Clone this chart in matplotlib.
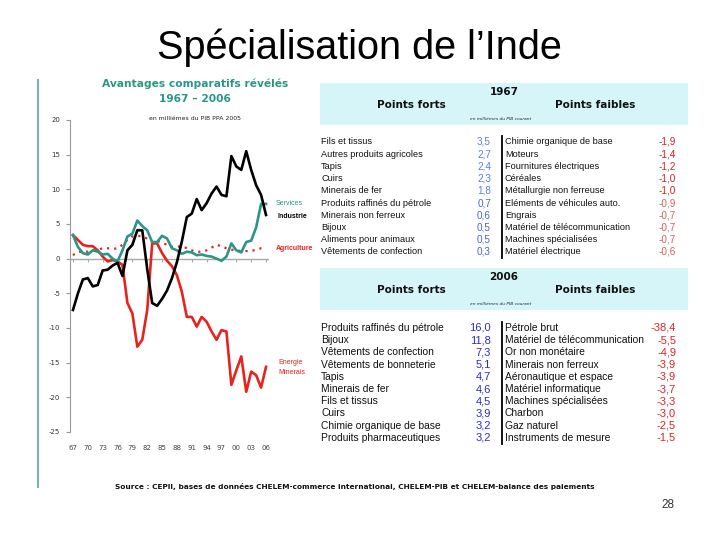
import matplotlib
matplotlib.use("Agg")
import matplotlib.pyplot as plt

# ---------------- data ----------------
years = list(range(1967, 2007))
industrie = [-7.4, -5.0, -3.0, -2.8, -4.0, -3.8, -1.7, -1.6, -1.0, -0.6,
             -2.5, 1.2, 2.0, 4.1, 4.1, -1.5, -6.4, -6.8, -5.8, -4.6,
             -2.8, -0.5, 2.5, 6.0, 6.5, 8.6, 7.0, 8.0, 9.4, 10.4,
             9.2, 9.0, 14.8, 13.3, 12.8, 15.5, 12.8, 10.6, 9.2, 6.3]
services = [3.4, 1.7, 0.8, 0.6, 1.2, 1.0, 0.6, 0.7, 0.0, -0.4,
            1.2, 3.2, 3.6, 5.5, 4.7, 4.1, 2.4, 2.4, 3.3, 2.9,
            1.5, 1.2, 0.7, 1.0, 0.9, 0.5, 0.6, 0.4, 0.3, 0.0,
            -0.3, 0.3, 2.2, 1.2, 0.9, 2.4, 2.6, 4.5, 7.9, 7.9]
energie = [3.4, 2.7, 2.0, 1.8, 1.8, 1.2, 0.3, -0.4, -0.2, -0.4,
           -0.9, -6.4, -7.9, -12.7, -11.7, -7.4, 2.2, 2.2, 0.8, -0.3,
           -1.1, -2.4, -4.8, -8.4, -8.4, -9.8, -8.4, -9.1, -10.5, -11.7,
           -10.3, -10.5, -18.2, -16.1, -14.1, -19.2, -16.3, -16.8, -18.6, -15.6]
agriculture = [0.5, 1.0, 1.0, 1.0, 1.2, 1.3, 1.5, 1.5, 1.4, 1.5,
               2.0, 2.7, 3.2, 3.3, 3.2, 2.9, 2.4, 2.6, 2.3, 2.0,
               1.7, 1.7, 1.8, 1.5, 1.2, 1.0, 1.0, 1.2, 1.6, 2.0,
               1.8, 1.5, 1.3, 1.2, 1.1, 1.1, 1.1, 1.3, 1.5, 1.5]
xtick_years = list(range(1967, 2007, 3))
xtick_labels = ["67", "70", "73", "76", "79", "82", "85", "88", "91", "94", "97", "00", "03", "06"]
yticks = [20, 15, 10, 5, 0, -5, -10, -15, -20, -25]

forts_1967 = ["Fils et tissus", "Autres produits agricoles", "Tapis", "Cuirs", "Minerais de fer",
              "Produits raffinés du pétrole", "Minerais non ferreux", "Bijoux",
              "Aliments pour animaux", "Vêtements de confection"]
forts_1967_val = ["3,5", "2,7", "2,4", "2,3", "1,8", "0,7", "0,6", "0,5", "0,5", "0,3"]
faibles_1967 = ["Chimie organique de base", "Moteurs", "Fournitures électriques", "Céréales",
                "Métallurgie non ferreuse", "Eléments de véhicules auto.", "Engrais",
                "Matériel de télécommunication", "Machines spécialisées", "Matériel électrique"]
faibles_1967_val = ["-1,9", "-1,4", "-1,2", "-1,0", "-1,0", "-0,9", "-0,7", "-0,7", "-0,7", "-0,6"]

forts_2006 = ["Produits raffinés du pétrole", "Bijoux", "Vêtements de confection",
              "Vêtements de bonneterie", "Tapis", "Minerais de fer", "Fils et tissus", "Cuirs",
              "Chimie organique de base", "Produits pharmaceutiques"]
forts_2006_val = ["16,0", "11,8", "7,3", "5,1", "4,7", "4,6", "4,5", "3,9", "3,2", "3,2"]
faibles_2006 = ["Pétrole brut", "Matériel de télécommunication", "Or non monétaire",
                "Minerais non ferreux", "Aéronautique et espace", "Matériel informatique",
                "Machines spécialisées", "Charbon", "Gaz naturel", "Instruments de mesure"]
faibles_2006_val = ["-38,4", "-5,5", "-4,9", "-3,9", "-3,9", "-3,7", "-3,3", "-3,0", "-2,5", "-1,5"]

# ---------------- figure ----------------
W, H = 720, 540
fig = plt.figure(figsize=(7.2, 5.4), dpi=100)
fig.patch.set_facecolor("white")

def fx(px):
    return px / W

def fy(py):
    return 1 - py / H

TEAL = "#2a9688"
RED = "#e8231e"

# slide title
fig.text(fx(359), fy(48), "Spécialisation de l’Inde", ha="center", va="center",
         fontsize=28.5, family="Liberation Sans", color="black")
# left decorative line
fig.add_artist(plt.Line2D([fx(38), fx(38)], [fy(80), fy(487)], color="#7ab3ad", lw=1.5))
# page number
fig.text(fx(668), fy(505), "28", ha="center", va="center", fontsize=8.5,
         family="Liberation Sans", color="#333333")

# ---------------- chart ----------------
ax = fig.add_axes([fx(70), fy(432), 199 / W, 312 / H])
ax.set_xlim(1966.4, 2006.6)
ax.set_ylim(-25, 20)
for s in ["top", "right", "bottom"]:
    ax.spines[s].set_visible(False)
ax.spines["left"].set_color("#999999")
ax.spines["left"].set_linewidth(0.8)
ax.set_yticks(yticks)
ax.set_yticklabels([str(v) for v in yticks])
ax.tick_params(axis="y", direction="out", length=3, color="#999999", labelsize=5,
               labelcolor="#333333", pad=4)
ax.set_xticks(xtick_years)
ax.set_xticklabels(xtick_labels)
ax.tick_params(axis="x", length=0, labelsize=5, labelcolor="#444444", pad=9)
ax.axhline(0, color="#a8a8a8", lw=1.0, zorder=1)
ax.vlines(xtick_years, -0.5, 0, color="#a8a8a8", lw=0.8, zorder=1)

ax.plot(years, agriculture, color=RED, lw=1.6, ls=(0, (1, 2.2)), zorder=2)
ax.plot(years, energie, color=RED, lw=1.9, zorder=3)
ax.plot(years, services, color=TEAL, lw=1.9, zorder=4)
ax.plot(years, industrie, color="black", lw=1.9, zorder=5)

fig.text(fx(276), fy(203), "Services", color=TEAL, fontsize=5.0, ha="left", va="center",
         family="Liberation Sans")
fig.text(fx(277), fy(216), "Industrie", color="black", fontsize=5.0, ha="left", va="center",
         family="Liberation Sans", weight="bold")
fig.text(fx(276), fy(249), "Agriculture", color=RED, fontsize=5.0, ha="left", va="center",
         family="Liberation Sans", weight="bold")
fig.text(fx(278), fy(362), "Energie", color=RED, fontsize=5.0, ha="left", va="center",
         family="Liberation Sans")
fig.text(fx(278), fy(373), "Minerais", color=RED, fontsize=5.0, ha="left", va="center",
         family="Liberation Sans")

fig.text(fx(195), fy(84), "Avantages comparatifs révélés", color=TEAL, fontsize=7.7,
         weight="bold", ha="center", va="center", family="DejaVu Sans")
fig.text(fx(195), fy(99), "1967 – 2006", color=TEAL, fontsize=7.7,
         weight="bold", ha="center", va="center", family="DejaVu Sans")
fig.text(fx(195), fy(119), "en milliémes du PIB PPA 2005", color="#222222", fontsize=4.4,
         ha="center", va="center", family="DejaVu Sans")

# ---------------- tables ----------------
BOX = "#d6f5f8"

def table(top, year, forts, fv, faibles, wv, first_row, fs, blues, reds, fam):
    fig.add_artist(plt.Rectangle((fx(320), fy(top + 42)), 368 / W, 42 / H,
                                 facecolor=BOX, edgecolor="none"))
    fig.text(fx(504), fy(top + 9), year, ha="center", va="center", fontsize=7.5,
             weight="bold", family="DejaVu Sans", color="#111111")
    fig.text(fx(411), fy(top + 22), "Points forts", ha="center", va="center", fontsize=7.5,
             weight="bold", family="DejaVu Sans", color="#111111")
    fig.text(fx(595), fy(top + 22), "Points faibles", ha="center", va="center", fontsize=7.5,
             weight="bold", family="DejaVu Sans", color="#111111")
    fig.text(fx(501), fy(top + 36), "en milliémes du PIB courant", ha="center", va="center",
             fontsize=3.2, style="italic", family="DejaVu Sans", color="#222222")
    step = 12.2
    for i in range(len(forts)):
        y = fy(first_row + i * step)
        fig.text(fx(321), y, forts[i], ha="left", va="center", fontsize=fs, family=fam,
                 color="#111111")
        fig.text(fx(491), y, fv[i], ha="right", va="center", fontsize=fs + 0.6, family=fam,
                 color=blues[0] if i < 5 else blues[1])
        fig.text(fx(505), y, faibles[i], ha="left", va="center", fontsize=fs, family=fam,
                 color="#111111")
        fig.text(fx(676), y, wv[i], ha="right", va="center", fontsize=fs + 0.6, family=fam,
                 color=reds[0] if i < 5 else reds[1])
    fig.add_artist(plt.Line2D([fx(502), fx(502)],
                              [fy(first_row - 6), fy(first_row + (len(forts) - 1) * step + 6)],
                              color="black", lw=1.3))

table(83, "1967", forts_1967, forts_1967_val, faibles_1967, faibles_1967_val,
      142, 6.6, ("#5e7fdc", "#4a66cc"), ("#d82020", "#e05a5a"), "Liberation Sans")
table(268, "2006", forts_2006, forts_2006_val, faibles_2006, faibles_2006_val,
      328, 7.4, ("#2d2dc4", "#2d2dc4"), ("#e02525", "#e02525"), "Liberation Sans")

fig.text(fx(355), fy(487),
         "Source : CEPII, bases de données CHELEM-commerce international, CHELEM-PIB et CHELEM-balance des paiements",
         ha="center", va="center", fontsize=5.35, weight="bold", family="DejaVu Sans",
         color="#111111")

fig.savefig("out.png", dpi=100)
